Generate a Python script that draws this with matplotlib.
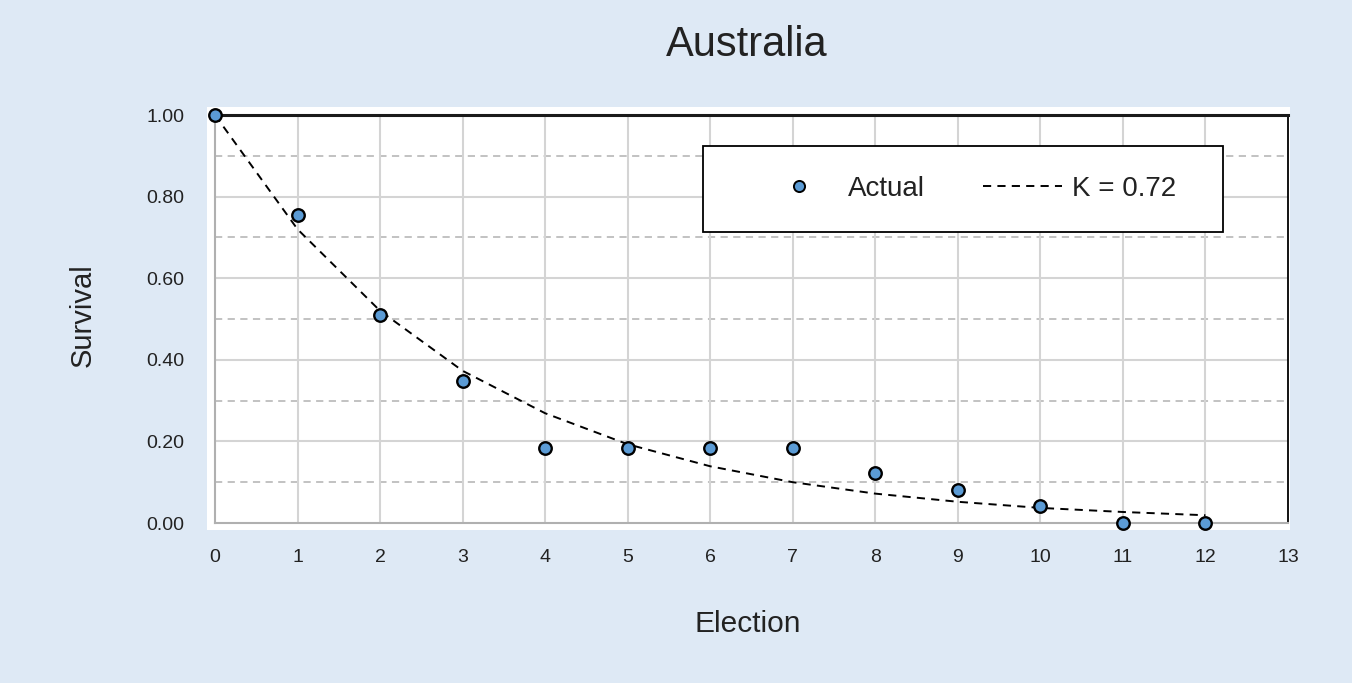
import matplotlib.pyplot as plt
from matplotlib.patches import Rectangle
from matplotlib.lines import Line2D

plt.rcParams['font.family'] = ['Liberation Sans', 'DejaVu Sans']

elections = [0, 1, 2, 3, 4, 5, 6, 7, 8, 9, 10, 11, 12]
actual = [1.00, 0.755, 0.51, 0.347, 0.184, 0.184, 0.184, 0.184, 0.122, 0.082, 0.041, 0.0, 0.0]
fitted = [1.00, 0.72, 0.52, 0.373, 0.269, 0.193, 0.139, 0.100, 0.072, 0.052, 0.037, 0.027, 0.019]
fit_label = 'K = 0.72'

bg = '#dee9f5'
txt = '#222222'
fit_ls = (0, (4.2, 3.2))
fig = plt.figure(figsize=(13.52, 6.83), dpi=100, facecolor=bg)

# white plot area slightly larger than the axes
fig.patches.append(Rectangle((207 / 1352, 1 - 530 / 683), (1290 - 207) / 1352, (530 - 107) / 683,
                             transform=fig.transFigure, facecolor='white', edgecolor='none', zorder=-1))

ax = fig.add_axes([215 / 1352, 1 - 523 / 683, (1288 - 215) / 1352, (523 - 115) / 683])
ax.set_zorder(2)
ax.set_facecolor('white')
ax.set_xlim(0, 13)
ax.set_ylim(0, 1)

# grid
for y in [0.1, 0.3, 0.5, 0.7, 0.9]:
    ax.axhline(y, color='#bdbdbd', lw=1.3, ls=(0, (4, 3)), zorder=1)
for y in [0.2, 0.4, 0.6, 0.8]:
    ax.axhline(y, color='#d4d4d4', lw=1.5, zorder=1)
for x in range(1, 13):
    ax.axvline(x, color='#d4d4d4', lw=1.5, zorder=1)

ax.plot(elections, fitted, ls=fit_ls, color='black', lw=1.4, zorder=3)
ax.plot(elections, actual, ls='none', marker='o', ms=9, mfc='#5b9bd5', mec='black', mew=1.7,
        zorder=4, clip_on=False)

for s in ['left', 'bottom']:
    ax.spines[s].set_color('#b0b0b0')
    ax.spines[s].set_linewidth(1.5)
ax.spines['top'].set_color('#1a1a1a')
ax.spines['top'].set_linewidth(2.2)
ax.spines['right'].set_color('black')
ax.spines['right'].set_linewidth(1.3)

ax.set_xticks(range(0, 14))
ax.set_yticks([0, 0.2, 0.4, 0.6, 0.8, 1.0])
ax.set_yticklabels(['%.2f' % v for v in [0, 0.2, 0.4, 0.6, 0.8, 1.0]])
ax.tick_params(axis='both', length=0, labelsize=14, colors=txt)
ax.tick_params(axis='x', pad=19)
ax.tick_params(axis='y', pad=22)

# titles
fig.text(747 / 1352, 1 - 56 / 683, 'Australia', fontsize=30, ha='center', va='baseline', color=txt)
fig.text(748 / 1352, 1 - 632 / 683, 'Election', fontsize=21.5, ha='center', va='baseline', color=txt)
fig.text(82.5 / 1352, 1 - 315 / 683, 'Survival', fontsize=21, rotation=90, ha='center', va='center',
         color=txt)

# legend box
ax.add_patch(Rectangle((488 / 1073, 291 / 408), 520 / 1073, 86 / 408, transform=ax.transAxes,
                       facecolor='white', edgecolor='black', lw=1.3, zorder=5))
handles = [Line2D([], [], ls='none', marker='o', ms=8, mfc='#5b9bd5', mec='black', mew=1.4),
           Line2D([], [], ls=fit_ls, color='black', lw=1.4)]
leg = ax.legend(handles, ['Actual', fit_label], ncol=2, loc='center left',
                bbox_to_anchor=(544 / 1073, 334 / 408), fontsize=20, frameon=False,
                borderpad=0, borderaxespad=0, columnspacing=2.1, handlelength=2.85,
                handletextpad=0.35)
for t in leg.get_texts():
    t.set_color(txt)
leg.set_zorder(6)

fig.savefig('out.png', dpi=100, facecolor=bg)
